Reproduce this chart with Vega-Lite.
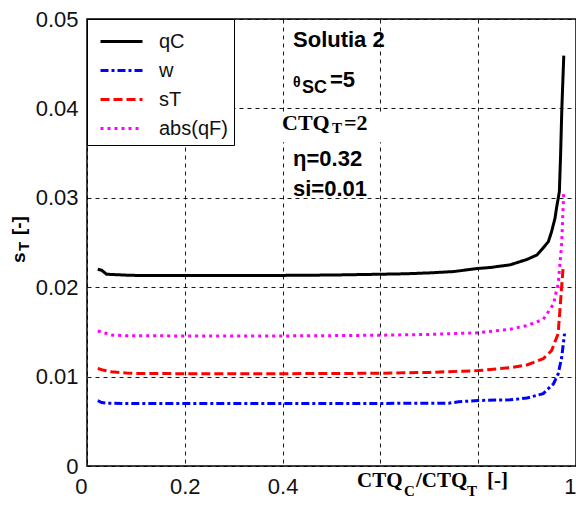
{
  "$schema": "https://vega.github.io/schema/vega-lite/v6.json",
  "width": 489,
  "height": 447,
  "autosize": {"type": "none"},
  "padding": {"left": 87, "top": 19, "right": 0, "bottom": 40},
  "background": "white",
  "config": {
    "view": {"stroke": "black", "strokeWidth": 1.5},
    "font": "Liberation Sans",
    "axis": {
      "grid": true, "gridColor": "black", "gridDash": [4, 4], "gridWidth": 1, "gridOpacity": 0.9,
      "domain": false, "ticks": false, "title": null,
      "labelFont": "Liberation Sans", "labelFontSize": 22, "labelColor": "#111111", "labelPadding": 10
    },
    "legend": {
      "orient": "top-left", "offset": 0, "padding": 6,
      "strokeColor": "black", "fillColor": "white",
      "symbolType": "M-1.4,0H1.4", "symbolSize": 900, "symbolStrokeWidth": 3, "symbolOffset": 12,
      "labelOffset": 21, "labelFontSize": 20, "labelFont": "Liberation Sans", "labelColor": "#111111",
      "rowPadding": 2
    }
  },
  "layer": [
    {
      "data": {"values": [
        {"series": "qC", "x": 0.022, "y": 0.0220},
        {"series": "qC", "x": 0.03, "y": 0.0219},
        {"series": "qC", "x": 0.04, "y": 0.02145},
        {"series": "qC", "x": 0.06, "y": 0.0214},
        {"series": "qC", "x": 0.08, "y": 0.02135},
        {"series": "qC", "x": 0.1, "y": 0.02132},
        {"series": "qC", "x": 0.2, "y": 0.0213},
        {"series": "qC", "x": 0.3, "y": 0.0213},
        {"series": "qC", "x": 0.4, "y": 0.02132},
        {"series": "qC", "x": 0.5, "y": 0.02136},
        {"series": "qC", "x": 0.6, "y": 0.02145},
        {"series": "qC", "x": 0.65, "y": 0.0215},
        {"series": "qC", "x": 0.7, "y": 0.0216},
        {"series": "qC", "x": 0.75, "y": 0.02175},
        {"series": "qC", "x": 0.8, "y": 0.0221},
        {"series": "qC", "x": 0.824, "y": 0.0222},
        {"series": "qC", "x": 0.865, "y": 0.0225},
        {"series": "qC", "x": 0.8995, "y": 0.0231},
        {"series": "qC", "x": 0.92, "y": 0.0236},
        {"series": "qC", "x": 0.933, "y": 0.0244},
        {"series": "qC", "x": 0.9435, "y": 0.0251},
        {"series": "qC", "x": 0.95, "y": 0.0262},
        {"series": "qC", "x": 0.957, "y": 0.0277},
        {"series": "qC", "x": 0.96, "y": 0.0288},
        {"series": "qC", "x": 0.966, "y": 0.0307},
        {"series": "qC", "x": 0.9685, "y": 0.0348},
        {"series": "qC", "x": 0.971, "y": 0.0399},
        {"series": "qC", "x": 0.975, "y": 0.0459},
        {"series": "w", "x": 0.022, "y": 0.0073},
        {"series": "w", "x": 0.03, "y": 0.0071},
        {"series": "w", "x": 0.04, "y": 0.00702},
        {"series": "w", "x": 0.1, "y": 0.00698},
        {"series": "w", "x": 0.3, "y": 0.00698},
        {"series": "w", "x": 0.6, "y": 0.007},
        {"series": "w", "x": 0.74, "y": 0.00703},
        {"series": "w", "x": 0.76, "y": 0.00718},
        {"series": "w", "x": 0.8, "y": 0.00733},
        {"series": "w", "x": 0.865, "y": 0.0074},
        {"series": "w", "x": 0.8995, "y": 0.0076},
        {"series": "w", "x": 0.933, "y": 0.0081},
        {"series": "w", "x": 0.954, "y": 0.0092},
        {"series": "w", "x": 0.9635, "y": 0.0103},
        {"series": "w", "x": 0.9706, "y": 0.0121},
        {"series": "w", "x": 0.9766, "y": 0.0148},
        {"series": "sT", "x": 0.022, "y": 0.0109},
        {"series": "sT", "x": 0.035, "y": 0.0107},
        {"series": "sT", "x": 0.05, "y": 0.01055},
        {"series": "sT", "x": 0.08, "y": 0.0104},
        {"series": "sT", "x": 0.1, "y": 0.01034},
        {"series": "sT", "x": 0.3, "y": 0.01032},
        {"series": "sT", "x": 0.5, "y": 0.01034},
        {"series": "sT", "x": 0.6, "y": 0.01038},
        {"series": "sT", "x": 0.7, "y": 0.01047},
        {"series": "sT", "x": 0.8, "y": 0.01067},
        {"series": "sT", "x": 0.865, "y": 0.0110},
        {"series": "sT", "x": 0.8995, "y": 0.0113},
        {"series": "sT", "x": 0.933, "y": 0.0120},
        {"series": "sT", "x": 0.95, "y": 0.0129},
        {"series": "sT", "x": 0.9635, "y": 0.0148},
        {"series": "sT", "x": 0.968, "y": 0.0181},
        {"series": "sT", "x": 0.9735, "y": 0.0221},
        {"series": "abs(qF)", "x": 0.022, "y": 0.0151},
        {"series": "abs(qF)", "x": 0.035, "y": 0.0149},
        {"series": "abs(qF)", "x": 0.05, "y": 0.01465},
        {"series": "abs(qF)", "x": 0.08, "y": 0.01457},
        {"series": "abs(qF)", "x": 0.2, "y": 0.01455},
        {"series": "abs(qF)", "x": 0.4, "y": 0.01455},
        {"series": "abs(qF)", "x": 0.5, "y": 0.01458},
        {"series": "abs(qF)", "x": 0.6, "y": 0.01463},
        {"series": "abs(qF)", "x": 0.7, "y": 0.01472},
        {"series": "abs(qF)", "x": 0.8, "y": 0.0149},
        {"series": "abs(qF)", "x": 0.865, "y": 0.0153},
        {"series": "abs(qF)", "x": 0.8995, "y": 0.0157},
        {"series": "abs(qF)", "x": 0.933, "y": 0.0164},
        {"series": "abs(qF)", "x": 0.954, "y": 0.0181},
        {"series": "abs(qF)", "x": 0.96, "y": 0.0196},
        {"series": "abs(qF)", "x": 0.9635, "y": 0.0203},
        {"series": "abs(qF)", "x": 0.9706, "y": 0.0248},
        {"series": "abs(qF)", "x": 0.975, "y": 0.0307}
      ]},
      "mark": {"type": "line", "strokeWidth": 3},
      "encoding": {
        "x": {"field": "x", "type": "quantitative", "scale": {"domain": [0, 1], "nice": false, "zero": false},
              "axis": {"title": null, "values": [0, 0.2, 0.4, 0.6, 0.8, 1], "format": ".1~f",
                       "labelExpr": "datum.value == 0.6 || datum.value == 0.8 ? '' : datum.label",
                       "labelAlign": {"condition": {"test": "datum.value == 0 || datum.value == 1", "value": "right"}, "value": "center"}}},
        "y": {"field": "y", "type": "quantitative", "scale": {"domain": [0, 0.05], "nice": false, "zero": false},
              "axis": {"title": null, "values": [0, 0.01, 0.02, 0.03, 0.04, 0.05], "format": ".2~f", "labelPadding": 9}},
        "color": {"field": "series", "type": "nominal",
                  "scale": {"domain": ["qC", "w", "sT", "abs(qF)"], "range": ["#000000", "#0000ff", "#ff0000", "#ff00ff"]},
                  "legend": {"title": null}},
        "strokeDash": {"field": "series", "type": "nominal",
                  "scale": {"domain": ["qC", "w", "sT", "abs(qF)"], "range": [[1, 0], [8, 3, 3, 3], [9, 4], [3, 4]]},
                  "legend": {"title": null}}
      }
    },
    {
      "data": {"values": [{}]},
      "mark": {"type": "rect", "fill": "white"},
      "encoding": {
        "x": {"datum": 0.39, "type": "quantitative"},
        "x2": {"datum": 0.665},
        "y": {"datum": 0.0362, "type": "quantitative"},
        "y2": {"datum": 0.0396}
      }
    },
    {
      "data": {"values": [{"t": "Solutia 2"}]},
      "mark": {"type": "text", "font": "Liberation Sans", "fontWeight": "bold", "fontSize": 22, "align": "left", "baseline": "alphabetic", "color": "black"},
      "encoding": {
        "text": {"field": "t"},
        "x": {"datum": 0.4213, "type": "quantitative"},
        "y": {"datum": 0.04687, "type": "quantitative"}
      }
    },
    {
      "data": {"values": [{"t": "θ"}]},
      "mark": {"type": "text", "font": "Liberation Sans", "fontWeight": "bold", "fontSize": 14, "align": "left", "baseline": "alphabetic", "color": "black"},
      "encoding": {
        "text": {"field": "t"},
        "x": {"datum": 0.4213, "type": "quantitative"},
        "y": {"datum": 0.04239, "type": "quantitative"}
      }
    },
    {
      "data": {"values": [{"t": "SC"}]},
      "mark": {"type": "text", "font": "Liberation Sans", "fontWeight": "bold", "fontSize": 18, "align": "left", "baseline": "alphabetic", "dx": 9, "dy": 6, "color": "black"},
      "encoding": {
        "text": {"field": "t"},
        "x": {"datum": 0.4213, "type": "quantitative"},
        "y": {"datum": 0.04239, "type": "quantitative"}
      }
    },
    {
      "data": {"values": [{"t": "=5"}]},
      "mark": {"type": "text", "font": "Liberation Sans", "fontWeight": "bold", "fontSize": 22, "align": "left", "baseline": "alphabetic", "dx": 37, "color": "black"},
      "encoding": {
        "text": {"field": "t"},
        "x": {"datum": 0.4213, "type": "quantitative"},
        "y": {"datum": 0.04239, "type": "quantitative"}
      }
    },
    {
      "data": {"values": [{"t": "CTQ"}]},
      "mark": {"type": "text", "font": "Liberation Serif", "fontWeight": "bold", "fontSize": 22, "align": "left", "baseline": "alphabetic", "dx": -11, "color": "black"},
      "encoding": {
        "text": {"field": "t"},
        "x": {"datum": 0.4213, "type": "quantitative"},
        "y": {"datum": 0.03758, "type": "quantitative"}
      }
    },
    {
      "data": {"values": [{"t": "T"}]},
      "mark": {"type": "text", "font": "Liberation Serif", "fontWeight": "bold", "fontSize": 15, "align": "left", "baseline": "alphabetic", "dx": 39, "dy": 3, "color": "black"},
      "encoding": {
        "text": {"field": "t"},
        "x": {"datum": 0.4213, "type": "quantitative"},
        "y": {"datum": 0.03758, "type": "quantitative"}
      }
    },
    {
      "data": {"values": [{"t": "=2"}]},
      "mark": {"type": "text", "font": "Liberation Serif", "fontWeight": "bold", "fontSize": 22, "align": "left", "baseline": "alphabetic", "dx": 51, "color": "black"},
      "encoding": {
        "text": {"field": "t"},
        "x": {"datum": 0.4213, "type": "quantitative"},
        "y": {"datum": 0.03758, "type": "quantitative"}
      }
    },
    {
      "data": {"values": [{"t": "η=0.32"}]},
      "mark": {"type": "text", "font": "Liberation Sans", "fontWeight": "bold", "fontSize": 22, "align": "left", "baseline": "alphabetic", "color": "black"},
      "encoding": {
        "text": {"field": "t"},
        "x": {"datum": 0.4213, "type": "quantitative"},
        "y": {"datum": 0.03356, "type": "quantitative"}
      }
    },
    {
      "data": {"values": [{"t": "si=0.01"}]},
      "mark": {"type": "text", "font": "Liberation Sans", "fontWeight": "bold", "fontSize": 22, "align": "left", "baseline": "alphabetic", "color": "black"},
      "encoding": {
        "text": {"field": "t"},
        "x": {"datum": 0.4213, "type": "quantitative"},
        "y": {"datum": 0.0302, "type": "quantitative"}
      }
    },
    {
      "data": {"values": [{"t": "CTQ"}]},
      "mark": {"type": "text", "font": "Liberation Serif", "fontWeight": "bold", "fontSize": 21, "align": "left", "baseline": "alphabetic", "color": "black"},
      "encoding": {
        "text": {"field": "t"},
        "x": {"datum": 0.5521, "type": "quantitative"},
        "y": {"datum": -0.00235, "type": "quantitative"}
      }
    },
    {
      "data": {"values": [{"t": "C"}]},
      "mark": {"type": "text", "font": "Liberation Serif", "fontWeight": "bold", "fontSize": 15, "align": "left", "baseline": "alphabetic", "dx": 47, "dy": 9, "color": "black"},
      "encoding": {
        "text": {"field": "t"},
        "x": {"datum": 0.5521, "type": "quantitative"},
        "y": {"datum": -0.00235, "type": "quantitative"}
      }
    },
    {
      "data": {"values": [{"t": "/CTQ"}]},
      "mark": {"type": "text", "font": "Liberation Serif", "fontWeight": "bold", "fontSize": 21, "align": "left", "baseline": "alphabetic", "dx": 59, "color": "black"},
      "encoding": {
        "text": {"field": "t"},
        "x": {"datum": 0.5521, "type": "quantitative"},
        "y": {"datum": -0.00235, "type": "quantitative"}
      }
    },
    {
      "data": {"values": [{"t": "T"}]},
      "mark": {"type": "text", "font": "Liberation Serif", "fontWeight": "bold", "fontSize": 15, "align": "left", "baseline": "alphabetic", "dx": 110, "dy": 9, "color": "black"},
      "encoding": {
        "text": {"field": "t"},
        "x": {"datum": 0.5521, "type": "quantitative"},
        "y": {"datum": -0.00235, "type": "quantitative"}
      }
    },
    {
      "data": {"values": [{"t": "[-]"}]},
      "mark": {"type": "text", "font": "Liberation Serif", "fontWeight": "bold", "fontSize": 21, "align": "left", "baseline": "alphabetic", "dx": 130, "color": "black"},
      "encoding": {
        "text": {"field": "t"},
        "x": {"datum": 0.5521, "type": "quantitative"},
        "y": {"datum": -0.00235, "type": "quantitative"}
      }
    },
    {
      "data": {"values": [{"t": "s"}]},
      "mark": {"type": "text", "font": "Liberation Sans", "fontWeight": "bold", "fontSize": 19, "align": "left", "baseline": "alphabetic", "angle": 270, "color": "black"},
      "encoding": {
        "text": {"field": "t"},
        "x": {"datum": -0.1268, "type": "quantitative"},
        "y": {"datum": 0.0227, "type": "quantitative"}
      }
    },
    {
      "data": {"values": [{"t": "T"}]},
      "mark": {"type": "text", "font": "Liberation Sans", "fontWeight": "bold", "fontSize": 15, "align": "left", "baseline": "alphabetic", "angle": 270, "dx": 12, "dy": 4, "color": "black"},
      "encoding": {
        "text": {"field": "t"},
        "x": {"datum": -0.1268, "type": "quantitative"},
        "y": {"datum": 0.0227, "type": "quantitative"}
      }
    },
    {
      "data": {"values": [{"t": "[-]"}]},
      "mark": {"type": "text", "font": "Liberation Sans", "fontWeight": "bold", "fontSize": 19, "align": "left", "baseline": "alphabetic", "angle": 270, "dx": 28, "color": "black"},
      "encoding": {
        "text": {"field": "t"},
        "x": {"datum": -0.1268, "type": "quantitative"},
        "y": {"datum": 0.0227, "type": "quantitative"}
      }
    }
  ]
}
